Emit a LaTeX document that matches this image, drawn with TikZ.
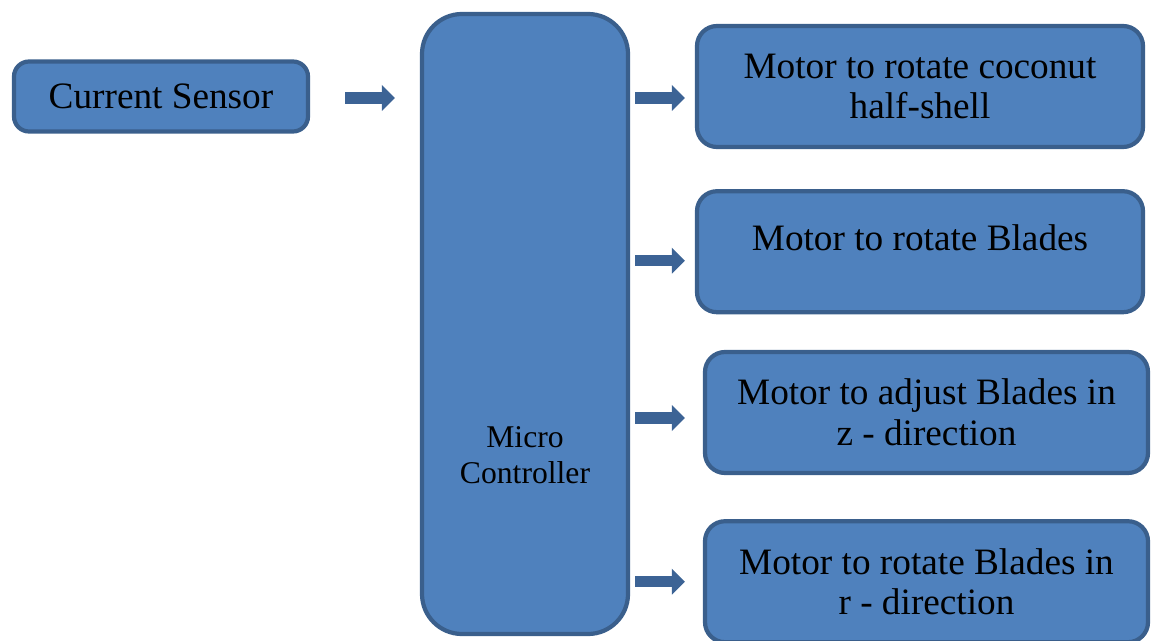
\documentclass[tikz,border=0pt]{standalone}
\usepackage{fontspec}
\setmainfont{Liberation Serif}
\usetikzlibrary{arrows.meta}
\usetikzlibrary{positioning}
\definecolor{boxfill}{HTML}{4F81BD}
\definecolor{boxline}{HTML}{3A5F8C}
\definecolor{arrowblue}{HTML}{3C6395}
\tikzset{
    block/.style={
           rectangle,
           rounded corners=0.2cm,
           draw=boxline, line width=1.2pt,
           fill=boxfill,
           minimum width=4.46cm,
           minimum height=1.21cm,
           text centered,
           align=center,
           inner sep=0pt,
           font=\fontsize{10.6}{11.6}\selectfont,
           },
    fatarrow/.style={
           draw=arrowblue, line width=0.115cm,
           -{Triangle[width=0.26cm,length=0.13cm,line width=0pt]},
           },
}

\begin{document}
\begin{tikzpicture}
	\clip (0,0) rectangle (11.52,-6.41);

	\node[block, minimum width=2.94cm, minimum height=0.70cm, rounded corners=0.15cm] (sensor) at (1.61,-0.965) {Current Sensor};
	\node[block, minimum width=2.06cm, minimum height=6.20cm, rounded corners=0.4cm] (mc) at (5.25,-3.24) {};
	\node[font=\fontsize{9}{10.2}\selectfont, align=center] (mclabel) at (5.25,-4.55) {Micro\\Controller};

	\node[block] (m1) at (9.20,-0.865) {Motor to rotate coconut\\half-shell};
	\node[block, text depth=0.28cm] (m2) [below=0.40cm of m1] {Motor to rotate Blades};
	\node[block, minimum width=4.43cm] (m3) at (9.265,-4.125) {Motor to adjust Blades in\\z - direction};
	\node[block, minimum width=4.43cm] (m4) [below=0.44cm of m3] {Motor to rotate Blades in\\r - direction};

	\draw[fatarrow, shorten <=0.35cm, shorten >=0.25cm] ([yshift=-0.015cm]sensor.east) -- ([yshift=-0.015cm]sensor.east -| mc.west);

	\draw[fatarrow, shorten <=0.05cm, shorten >=0.10cm] ([yshift=-0.115cm]m1.west -| mc.east) -- ([yshift=-0.115cm]m1.west);
	\draw[fatarrow, shorten <=0.05cm, shorten >=0.10cm] ([yshift=-0.09cm]m2.west -| mc.east) -- ([yshift=-0.09cm]m2.west);
	\draw[fatarrow, shorten <=0.05cm, shorten >=0.18cm] ([yshift=-0.055cm]m3.west -| mc.east) -- ([yshift=-0.055cm]m3.west);
	\draw[fatarrow, shorten <=0.05cm, shorten >=0.18cm] (m4.west -| mc.east) -- (m4.west);

\end{tikzpicture}
\end{document}
